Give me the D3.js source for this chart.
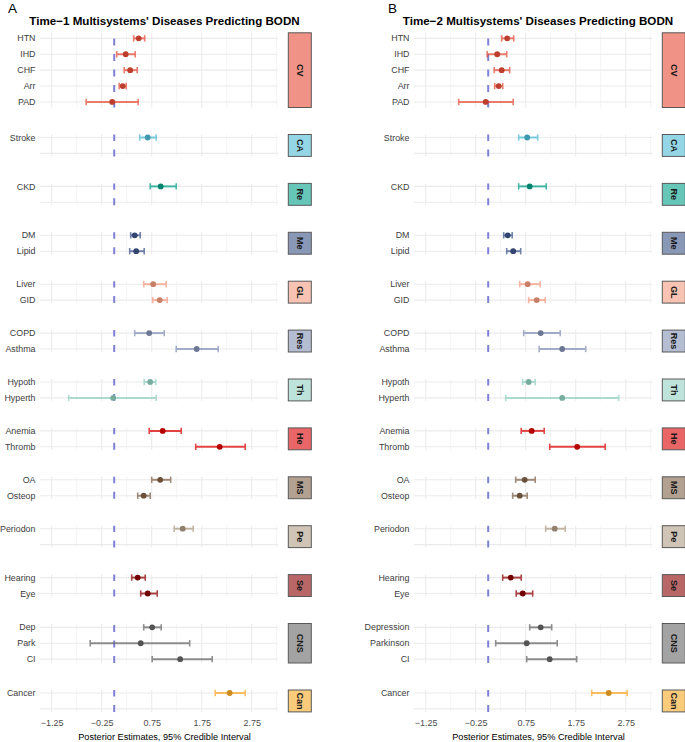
<!DOCTYPE html>
<html><head><meta charset="utf-8">
<script src="https://cdn.jsdelivr.net/npm/d3@7"></script>
<style>body{margin:0;background:#fff}svg{display:block;font-family:"Liberation Sans",Arial,sans-serif}</style>
</head><body><svg id="c" width="685" height="742"></svg>
<script>
// ---------- data ----------
const groups = ["CV","CA","Re","Me","GL","Res","Th","He","MS","Pe","Se","CNS","Can"];
const groupColors = ["#E64B35","#4DBBD5","#00A087","#3C5488","#F39B7F","#8491B4","#91D1C2","#DC0000","#7E6148","#B09C85","#8B0000","#666666","#F9A825"];

const t1Labels = ["HTN","IHD","CHF","Arr","PAD","Stroke","CKD","DM","Lipid","Liver","GID","COPD","Asthma","Hypoth","Hyperth","Anemia","Thromb","OA","Osteop","Periodon","Hearing","Eye","Dep","Park","CI","Cancer"];
const t1Groups = ["CV","CV","CV","CV","CV","CA","Re","Me","Me","GL","GL","Res","Res","Th","Th","He","He","MS","MS","Pe","Se","Se","CNS","CNS","CNS","Can"];
const t1Est  = [0.49,0.23,0.32,0.17,-0.04,0.67,0.93,0.41,0.44,0.78,0.91,0.70,1.65,0.72,-0.02,0.97,2.11,0.92,0.59,1.37,0.47,0.67,0.76,0.53,1.32,2.31];
const t1Low  = [0.39,0.05,0.20,0.10,-0.56,0.51,0.72,0.33,0.31,0.59,0.77,0.41,1.24,0.60,-0.91,0.70,1.63,0.75,0.47,1.20,0.35,0.53,0.59,-0.48,0.76,2.02];
const t1High = [0.61,0.42,0.46,0.24,0.48,0.84,1.24,0.52,0.60,1.04,1.06,1.00,2.08,0.83,0.84,1.34,2.62,1.13,0.72,1.58,0.62,0.86,0.94,1.51,1.96,2.62];

const t2Labels = ["HTN","IHD","CHF","Arr","PAD","Stroke","CKD","DM","Lipid","Liver","GID","COPD","Asthma","Hypoth","Hyperth","Anemia","Thromb","OA","Osteop","Periodon","Hearing","Eye","Depression","Parkinson","CI","Cancer"];
const t2Groups = t1Groups.slice();
const t2Est  = [0.38,0.18,0.27,0.21,-0.05,0.78,0.83,0.39,0.50,0.79,0.97,1.05,1.48,0.81,1.48,0.87,1.78,0.73,0.63,1.33,0.45,0.69,1.05,0.77,1.23,2.41];
const t2Low  = [0.27,-0.02,0.12,0.13,-0.59,0.61,0.61,0.31,0.37,0.63,0.81,0.71,1.02,0.69,0.35,0.66,1.23,0.55,0.49,1.15,0.29,0.56,0.83,0.15,0.77,2.07];
const t2High = [0.51,0.37,0.43,0.29,0.50,0.99,1.16,0.48,0.65,1.04,1.14,1.44,1.95,0.94,2.61,1.12,2.34,0.94,0.78,1.54,0.66,0.89,1.27,1.38,1.77,2.78];

const majorTicks = [-1.25,-0.25,0.75,1.75,2.75];
const minorTicks = [-0.75,0.25,1.25,2.25,3.25];
const xDomain = [-1.484, 3.282];
const refValue = 0;

const panels = [
  {tag:"A", title:"Time\u22121 Multisystems' Diseases Predicting BODN", labels:t1Labels, grp:t1Groups, est:t1Est, lo:t1Low, hi:t1High},
  {tag:"B", title:"Time\u22122 Multisystems' Diseases Predicting BODN", labels:t2Labels, grp:t2Groups, est:t2Est, lo:t2Low, hi:t2High}
];

// ---------- layout ----------
const svg = d3.select("#c");
const panelX = [40, 414];
const panelW = 238.3;
const rowStep = 15.9, gap = 27, top0 = 32.8;
const colorOf = d3.scaleOrdinal().domain(groups).range(groupColors);

function facetLayout(grpArr){
  let y = top0;
  return groups.map(g=>{
    const idx = grpArr.map((d,i)=>d===g?i:-1).filter(i=>i>=0);
    const n = Math.max(2, idx.length);
    const pad = 3 + (n-2)*0.85;
    const h = (n-1)*rowStep + 2*pad;
    const keys = idx.map(i=>"r"+i);
    while(keys.length<n) keys.push("blank_"+g+keys.length);
    const ys = d3.scalePoint().domain(keys).range([y+pad, y+h-pad]);
    const f = {g, idx, top:y, h, ys, keys};
    y += h + gap;
    return f;
  });
}

panels.forEach((p,pi)=>{
  const x0 = panelX[pi];
  const x = d3.scaleLinear().domain(xDomain).range([x0, x0+panelW]);
  const facets = facetLayout(p.grp);
  const G = svg.append("g");

  G.append("text").attr("x", pi===0?8:388).attr("y",13).attr("font-size",13.5).attr("fill","#000").text(p.tag);
  G.append("text").attr("x", pi===0?164.5:538).attr("y",25).attr("text-anchor","middle")
    .attr("font-size",11.6).attr("font-weight","bold").attr("fill","#000").text(p.title);

  facets.forEach(f=>{
    const fg = G.append("g");
    const bottom = f.top + f.h;
    fg.selectAll(".mn").data(minorTicks).join("line")
      .attr("x1",d=>x(d)).attr("x2",d=>x(d)).attr("y1",f.top).attr("y2",bottom)
      .attr("stroke","#F0F0F0").attr("stroke-width",0.8);
    fg.selectAll(".mj").data(majorTicks).join("line")
      .attr("x1",d=>x(d)).attr("x2",d=>x(d)).attr("y1",f.top).attr("y2",bottom)
      .attr("stroke","#EBEBEB").attr("stroke-width",1.1);
    fg.selectAll(".hg").data(f.keys).join("line")
      .attr("x1",x0).attr("x2",x0+panelW).attr("y1",d=>f.ys(d)).attr("y2",d=>f.ys(d))
      .attr("stroke","#EBEBEB").attr("stroke-width",1.1);
    fg.append("line").attr("x1",x(refValue)).attr("x2",x(refValue)).attr("y1",bottom).attr("y2",f.top)
      .attr("stroke","#7F80D6").attr("stroke-width",2).attr("stroke-dasharray","7 8.5");
    fg.selectAll(".yl").data(f.idx).join("text")
      .attr("x",x0-4.5).attr("y",i=>f.ys("r"+i)).attr("dy","0.35em").attr("text-anchor","end")
      .attr("font-size",8.9).attr("fill","#3d3d3d").text(i=>p.labels[i]);
    const col = colorOf(f.g);
    const eb = fg.selectAll(".eb").data(f.idx).join("g").attr("opacity",0.72);
    eb.append("line").attr("x1",i=>x(p.lo[i])).attr("x2",i=>x(p.hi[i]))
      .attr("y1",i=>f.ys("r"+i)).attr("y2",i=>f.ys("r"+i)).attr("stroke",col).attr("stroke-width",2);
    eb.append("line").attr("x1",i=>x(p.lo[i])).attr("x2",i=>x(p.lo[i]))
      .attr("y1",i=>f.ys("r"+i)-3.2).attr("y2",i=>f.ys("r"+i)+3.2).attr("stroke",col).attr("stroke-width",1.6);
    eb.append("line").attr("x1",i=>x(p.hi[i])).attr("x2",i=>x(p.hi[i]))
      .attr("y1",i=>f.ys("r"+i)-3.2).attr("y2",i=>f.ys("r"+i)+3.2).attr("stroke",col).attr("stroke-width",1.6);
    fg.selectAll(".pt").data(f.idx).join("circle")
      .attr("cx",i=>x(p.est[i])).attr("cy",i=>f.ys("r"+i)).attr("r",2.9)
      .attr("fill",d3.color(col).darker(0.55).formatHex());
    const sx = x0 + panelW + 10;
    fg.append("rect").attr("x",sx).attr("y",f.top).attr("width",23).attr("height",f.h)
      .attr("fill",d3.interpolateRgb("#ffffff",col)(0.6)).attr("stroke","#595959").attr("stroke-width",1);
    fg.append("text").attr("transform",`translate(${sx+11.5},${f.top+f.h/2}) rotate(90)`)
      .attr("text-anchor","middle").attr("dy","0.35em").attr("font-size",9).attr("font-weight","bold")
      .attr("fill","#1a1a1a").text(f.g);
  });

  const lastBottom = facets[facets.length-1].top + facets[facets.length-1].h;
  const ax = G.append("g").attr("transform",`translate(0,${lastBottom+3})`)
    .call(d3.axisBottom(x).tickValues(majorTicks).tickFormat(d3.format(".2f")).tickSize(0).tickPadding(5));
  ax.select(".domain").remove();
  ax.selectAll("text").attr("font-size",9).attr("fill","#4D4D4D").attr("font-family","Liberation Sans, Arial, sans-serif");
  G.append("text").attr("x",x0+124.5).attr("y",740).attr("text-anchor","middle")
    .attr("font-size",9.2).attr("fill","#000").text("Posterior Estimates, 95% Credible Interval");
});
</script></body></html>
